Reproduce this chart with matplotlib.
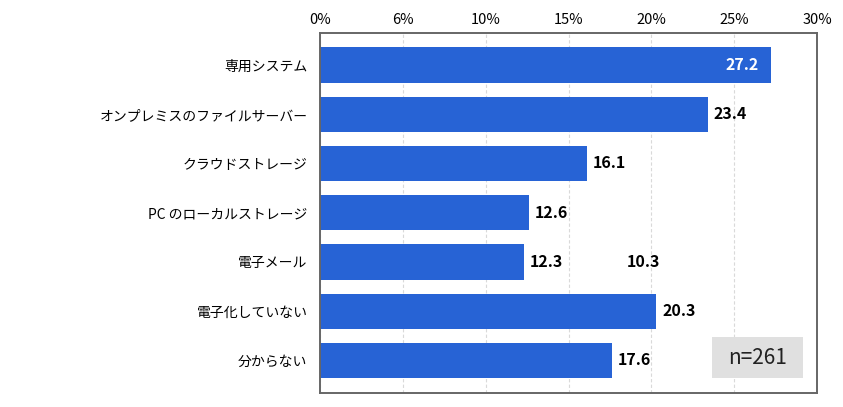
import matplotlib
matplotlib.use("Agg")
import matplotlib.pyplot as plt
import matplotlib.patches as patches
import numpy as np

plt.rcParams['font.family'] = ['Noto Sans CJK JP', 'DejaVu Sans']

categories = ["専用システム", "オンプレミスのファイルサーバー", "クラウドストレージ",
              "PC のローカルストレージ", "電子メール", "電子化していない", "分からない"]
values = [27.2, 23.4, 16.1, 12.6, 12.3, 20.3, 17.6]
tick_pos = [0, 5, 10, 15, 20, 25, 30]
tick_labels = ["0%", "6%", "10%", "15%", "20%", "25%", "30%"]
stray_label = "10.3"
stray_x = 19.5
stray_row = 4
n_text = "n=261"

BAR_COLOR = "#2763d5"

fig = plt.figure(figsize=(8.43, 4.07), dpi=100)
ax = fig.add_axes([0.3796, 0.0351, 0.5896, 0.8846])

y = np.arange(len(categories))
ax.barh(y, values, height=0.716, color=BAR_COLOR, zorder=2)

ax.set_xlim(0, 30)
ax.set_ylim(6.655, -0.655)
ax.set_xticks(tick_pos)
ax.set_xticklabels(tick_labels)
ax.xaxis.tick_top()
ax.tick_params(axis='x', length=0, pad=4, labelsize=10.5)
ax.set_yticks(y)
ax.set_yticklabels(categories, fontsize=10)
ax.tick_params(axis='y', length=0, pad=9)

ax.grid(axis='x', color='#d9d9d9', linestyle=(0, (3, 2)), linewidth=0.8, zorder=0)
for s in ax.spines.values():
    s.set_color('#666666')
    s.set_linewidth(1.4)

for i, v in enumerate(values):
    if i == 0:
        ax.text(v - 0.7, i, f"{v:.1f}", ha='right', va='center', color='white',
                fontsize=11.5, fontweight='bold')
    else:
        ax.text(v + 0.36, i, f"{v:.1f}", ha='left', va='center', color='black',
                fontsize=11.5, fontweight='bold')

ax.text(stray_x, stray_row, stray_label, ha='center', va='center', color='black',
        fontsize=11.5, fontweight='bold')

# n box
box = patches.Rectangle((712 / 843, 1 - 378 / 407), 91 / 843, 41 / 407,
                        transform=fig.transFigure, facecolor='#e0e0e0',
                        edgecolor='none', zorder=3)
fig.patches.append(box)
fig.text(757.5 / 843, 1 - 357.5 / 407, n_text, ha='center', va='center',
         fontsize=15, color='#222222', zorder=4)

fig.savefig("out.png", dpi=100)
